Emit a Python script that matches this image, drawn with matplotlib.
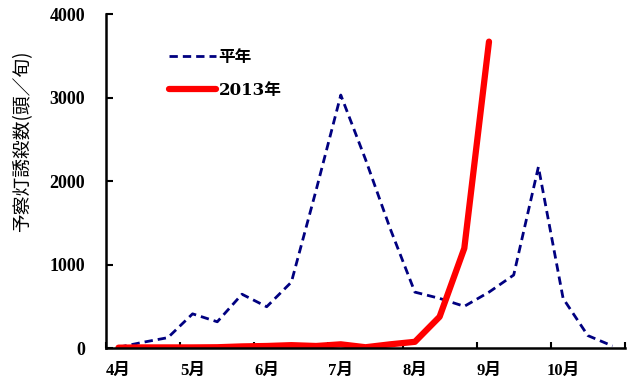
import matplotlib.pyplot as plt
import numpy as np

plt.rcParams['font.family'] = ['Liberation Serif', 'Noto Sans CJK JP']

# 4月上旬 .. 10月下旬 (21 旬)
months = ["4月", "5月", "6月", "7月", "8月", "9月", "10月"]
heinen = [10, 70, 125, 410, 315, 645, 495, 790, 1890, 3030, 2260,
          1430, 670, 595, 500, 670, 875, 2170, 595, 150, 25]
y2013 = [5, 8, 8, 8, 10, 20, 25, 35, 25, 45, 10, 45, 75, 375, 1195, 3670]

fig = plt.figure(figsize=(6.28, 3.8), dpi=100)
ax = fig.add_axes([0.169, 0.084, 0.826, 0.879])

x1 = np.arange(len(heinen)) + 0.5
x2 = np.arange(len(y2013)) + 0.5
ax.plot(x1, heinen, color='#000080', lw=2, ls=(0, (3, 1.8)), label='平年')
ax.plot(x2, y2013, color='#ff0000', lw=4.5, solid_capstyle='round', label='2013年')

ax.set_xlim(0, 21)
ax.set_ylim(0, 4000)
ax.set_yticks([0, 1000, 2000, 3000, 4000])
ax.set_xticks(np.arange(0, 22, 3))
ax.set_xticklabels([])
ax.set_xticks(np.arange(0, 21, 3) + 0.5, minor=True)
ax.set_xticklabels(months, minor=True)
ax.tick_params(axis='x', which='major', direction='in', length=4, width=1.5)
ax.tick_params(axis='x', which='minor', length=0, pad=10.5)
ax.tick_params(axis='y', direction='in', length=5, width=1.5, pad=15)
for lab in ax.get_yticklabels():
    lab.set_fontsize(13)
    lab.set_fontweight('bold')
for lab in ax.get_xticklabels(minor=True):
    lab.set_fontsize(12)
    lab.set_fontweight('bold')

for s in ['top', 'right']:
    ax.spines[s].set_visible(False)
for s in ['left', 'bottom']:
    ax.spines[s].set_linewidth(1.8)

ax.set_ylabel('予察灯誘殺数(頭／旬)', family=['Noto Sans CJK JP'], fontsize=13.5)
ax.yaxis.set_label_coords(-0.14, 0.62)

ax.legend(loc='upper left', bbox_to_anchor=(0.092, 0.941), frameon=False,
          handlelength=2.8, handletextpad=0.18, labelspacing=0.97,
          prop={'family': ['DejaVu Serif', 'Noto Sans CJK JP'], 'size': 12, 'weight': 'bold'})

fig.savefig('out.png', dpi=100)
